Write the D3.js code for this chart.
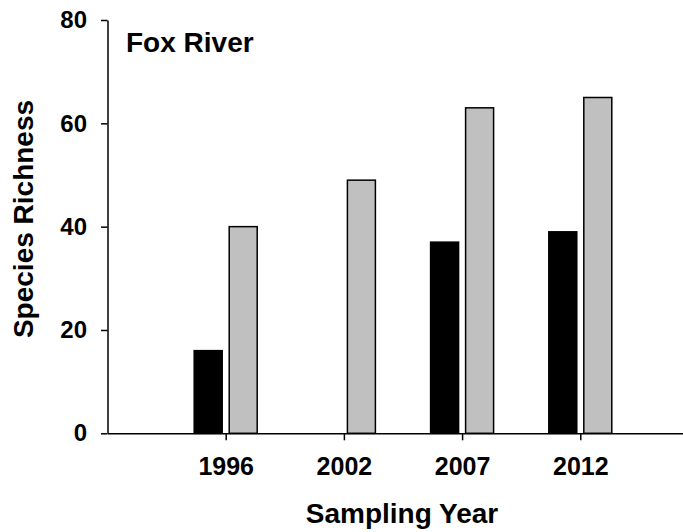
<!DOCTYPE html>
<html>
<head>
<meta charset="utf-8">
<script src="https://cdn.jsdelivr.net/npm/d3@7"></script>
<style>
  body { margin: 0; background: #fff; }
  svg { display: block; font-family: "Liberation Sans", Arial, sans-serif; font-weight: bold; }
</style>
</head>
<body>
<svg id="chart"></svg>
<script>
// Fox River species richness by sampling year
const years = ["1996", "2002", "2007", "2012"]
const blackValues = [16, null, 37, 39]   // no black bar in 2002
const grayValues = [40, 49, 63, 65]
const yTicks = [0, 20, 40, 60, 80]

const width = 683
const height = 532
const margin = { top: 20, right: 0, bottom: 99, left: 107.5 }

const svg = d3.select("#chart")
    .attr("width", width)
    .attr("height", height)
    .attr("viewBox", [0, 0, width, height])

// years sit at index 1..4, the axis runs past the right edge
const x = d3.scaleLinear()
    .domain([0, years.length + 1])
    .range([margin.left, margin.left + 118.2 * (years.length + 1)])

const y = d3.scaleLinear()
    .domain([0, 80])
    .range([height - margin.bottom + 0.3, margin.top])

const barW = 28
const gap = 3.5

const rows = years.map((yr, i) => ({ yr, i, black: blackValues[i], gray: grayValues[i] }))

svg.append("g")
    .attr("fill", "#000")
    .attr("stroke", "#000")
    .attr("stroke-width", 1.5)
  .selectAll("rect")
  .data(rows.filter(d => d.black != null))
  .join("rect")
    .attr("x", d => x(d.i + 1) - gap - barW)
    .attr("width", barW)
    .attr("y", d => y(d.black))
    .attr("height", d => y(0) - y(d.black))

svg.append("g")
    .attr("fill", "#c0c0c0")
    .attr("stroke", "#000")
    .attr("stroke-width", 1.5)
  .selectAll("rect")
  .data(rows)
  .join("rect")
    .attr("x", d => x(d.i + 1) + gap)
    .attr("width", barW)
    .attr("y", d => y(d.gray))
    .attr("height", d => y(0) - y(d.gray))

// x axis
svg.append("g")
    .attr("transform", `translate(0,${y(0)})`)
    .call(d3.axisBottom(x)
        .tickValues(years.map((_, i) => i + 1))
        .tickFormat(i => years[i - 1])
        .tickSize(7)
        .tickSizeOuter(0)
        .tickPadding(17))
    .call(g => g.select(".domain").attr("stroke-width", 1.5))
    .call(g => g.selectAll(".tick line").attr("stroke-width", 1.5))
    .call(g => g.selectAll("text")
        .attr("fill", "#000")
        .style("font-size", "25px")
        .style("font-weight", "bold")
        .style("font-family", "'Liberation Sans', Arial, sans-serif"))

// y axis
svg.append("g")
    .attr("transform", `translate(${margin.left},0)`)
    .call(d3.axisLeft(y)
        .tickValues(yTicks)
        .tickSize(6.5)
        .tickSizeOuter(0)
        .tickPadding(14))
    .call(g => g.select(".domain").attr("stroke-width", 1.5))
    .call(g => g.selectAll(".tick line").attr("stroke-width", 1.5))
    .call(g => g.selectAll("text")
        .attr("fill", "#000")
        .style("font-size", "24px")
        .style("font-weight", "bold")
        .style("font-family", "'Liberation Sans', Arial, sans-serif"))

svg.append("text")
    .attr("x", 126)
    .attr("y", 52)
    .attr("font-size", 28)
    .text("Fox River")

svg.append("text")
    .attr("x", 402)
    .attr("y", 523)
    .attr("text-anchor", "middle")
    .attr("font-size", 28)
    .text("Sampling Year")

svg.append("text")
    .attr("transform", `translate(33,219) rotate(-90)`)
    .attr("text-anchor", "middle")
    .attr("font-size", 28)
    .text("Species Richness")
</script>
</body>
</html>
